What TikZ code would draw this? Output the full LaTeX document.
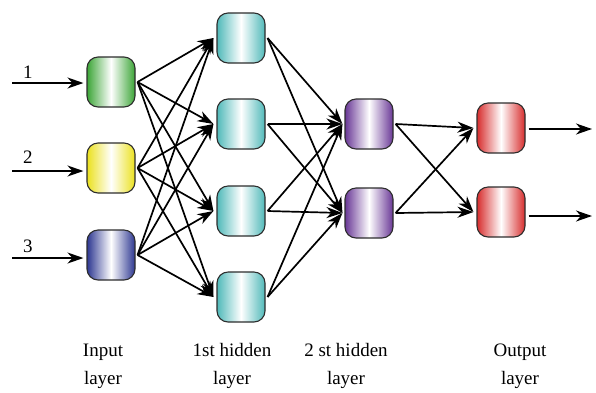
\documentclass[tikz,border=0pt]{standalone}
\usepackage{fontspec}
\setmainfont{Liberation Serif}
\usetikzlibrary{arrows.meta}
\definecolor{cgreen}{RGB}{60,165,55}
\definecolor{cyellow}{RGB}{235,225,30}
\definecolor{cblue}{RGB}{45,55,145}
\definecolor{ccyan}{RGB}{80,185,185}
\definecolor{cpurple}{RGB}{105,55,150}
\definecolor{cred}{RGB}{215,45,45}
\definecolor{cedge}{RGB}{45,45,45}
\tikzset{
  neuron/.style={draw=cedge, line width=1.1pt, rounded corners=11pt,
    minimum width=48pt, minimum height=50pt, inner sep=0pt,
    left color=#1, right color=#1, middle color=white},
  link/.style={line width=1.7pt, -{Stealth[length=16pt,width=11pt,inset=5pt]}},
  lbl/.style={font=\fontsize{19}{28}\selectfont, align=center},
  num/.style={font=\fontsize{19}{22}\selectfont}
}
\begin{document}
\begin{tikzpicture}[x=1pt,y=-1pt]
\useasboundingbox (0,0) rectangle (596,392);
% input layer
\node[neuron=cgreen]  (i1) at (111,82) {};
\node[neuron=cyellow] (i2) at (111,168) {};
\node[neuron=cblue]   (i3) at (111,255) {};
% hidden 1
\node[neuron=ccyan] (h1) at (241,38) {};
\node[neuron=ccyan] (h2) at (241,124) {};
\node[neuron=ccyan] (h3) at (241,211) {};
\node[neuron=ccyan] (h4) at (241,297) {};
% hidden 2
\node[neuron=cpurple] (g1) at (369,124) {};
\node[neuron=cpurple] (g2) at (369,213) {};
% output
\node[neuron=cred] (o1) at (501,128) {};
\node[neuron=cred] (o2) at (501,212) {};
% input arrows
\coordinate (s1) at (12,83);
\coordinate (s2) at (12,171);
\coordinate (s3) at (12,258);
\draw[link] (s1) -- ([xshift=-3pt]i1.west |- s1);
\draw[link] (s2) -- ([xshift=-3pt]i2.west |- s2);
\draw[link] (s3) -- ([xshift=-3pt]i3.west |- s3);
\node[num] (n1) at (28,72) {1};
\node[num] (n2) at (28,157) {2};
\node[num] (n3) at (28,246) {3};
% input -> hidden1
\foreach \a in {i1,i2,i3}{
  \foreach \b in {h1,h2,h3,h4}{
    \draw[link] ([xshift=2pt]\a.east) -- ([xshift=-3pt]\b.west);
  }
}
% hidden1 -> hidden2
\foreach \a in {h1,h2,h3,h4}{
  \foreach \b in {g1,g2}{
    \draw[link] ([xshift=2pt]\a.east) -- ([xshift=-2pt]\b.west);
  }
}
% hidden2 -> output
\foreach \a in {g1,g2}{
  \foreach \b in {o1,o2}{
    \draw[link] ([xshift=2pt]\a.east) -- ([xshift=-3pt]\b.west);
  }
}
% output arrows
\coordinate (e1) at (592,129);
\coordinate (e2) at (592,216);
\draw[link] ([xshift=3pt]o1.east |- e1) -- (e1);
\draw[link] ([xshift=3pt]o2.east |- e2) -- (e2);
% labels
\node[lbl] (l1) at (103,366) {Input\\layer};
\node[lbl] (l2) at (232,366) {1st hidden\\layer};
\node[lbl] (l3) at (346,366) {2 st hidden\\layer};
\node[lbl] (l4) at (520,366) {Output\\layer};
\end{tikzpicture}
\end{document}
